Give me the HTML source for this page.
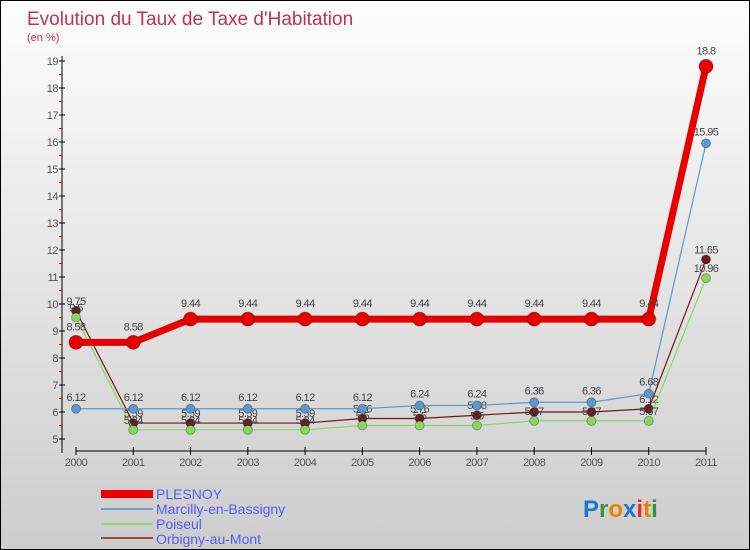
<!DOCTYPE html>
<html><head><meta charset="utf-8"><style>
body{margin:0}
#c{width:748px;height:548px;border:1px solid #000;background:linear-gradient(#fdfdfd,#cdcdcd);position:relative;overflow:hidden;font-family:"Liberation Sans",sans-serif}
</style></head><body>
<div id="c">
<svg width="748" height="548" id="s" style="position:absolute;left:0;top:0">
<text x="26" y="24" font-size="19" fill="#c0305a">Evolution du Taux de Taxe d'Habitation</text>
<text x="26" y="40" font-size="11" fill="#c0305a">(en %)</text>
<g id="ax"></g><g id="ser"></g>
<g>
<rect x="100" y="489" width="52" height="8" fill="#e00"/>
<text x="155" y="498" font-size="14" fill="#5a5aee">PLESNOY</text>
<rect x="100" y="507" width="52" height="2" fill="#6aa0c8"/>
<text x="155" y="513" font-size="14" fill="#5a5aee">Marcilly-en-Bassigny</text>
<rect x="100" y="522" width="52" height="2" fill="#90d870"/>
<text x="155" y="528" font-size="14" fill="#5a5aee">Poiseul</text>
<rect x="100" y="536" width="52" height="2" fill="#905050"/>
<text x="155" y="543" font-size="14" fill="#5a5aee">Orbigny-au-Mont</text>
</g>
<g font-size="24" font-weight="bold">
<text x="582" y="516"><tspan fill="#1a78d0">P</tspan><tspan fill="#2a9a3a">r</tspan><tspan fill="#f08000">o</tspan><tspan fill="#1a78d0">x</tspan><tspan fill="#e03020">i</tspan><tspan fill="#f08000">t</tspan><tspan fill="#2a9a3a">i</tspan></text>
</g>
</svg>
</div>
<script>
const years=["2000","2001","2002","2003","2004","2005","2006","2007","2008","2009","2010","2011"];
const yTicks=[5,6,7,8,9,10,11,12,13,14,15,16,17,18,19];
const plesnoy=[8.58,8.58,9.44,9.44,9.44,9.44,9.44,9.44,9.44,9.44,9.44,18.8];
const marcilly=[6.12,6.12,6.12,6.12,6.12,6.12,6.24,6.24,6.36,6.36,6.68,15.95];
const poiseul=[9.5,5.34,5.34,5.34,5.34,5.5,5.5,5.5,5.67,5.67,5.67,10.96];
const orbigny=[9.75,5.59,5.59,5.59,5.59,5.76,5.76,5.88,6,6,6.12,11.65];
const NS="http://www.w3.org/2000/svg";
const X=i=>75+i*(630/11), Y=v=>438-(v-5)*27;
function mk(t,a,p){const e=document.createElementNS(NS,t);for(const k in a)e.setAttribute(k,a[k]);p.appendChild(e);return e;}
const ax=document.getElementById('ax'), ser=document.getElementById('ser');
const ya=mk('line',{x1:61,y1:55,x2:61,y2:452,stroke:'#000'},ax);


yTicks.forEach(v=>{
 mk('line',{x1:58,x2:64,y1:Y(v),y2:Y(v),stroke:'#000'},ax);
 if(v<19)mk('line',{x1:58,x2:61,y1:Y(v+0.5),y2:Y(v+0.5),stroke:'#e00'},ax);
 const t=mk('text',{x:57,y:Y(v)+4,'font-size':11,fill:'#555','text-anchor':'end','letter-spacing':'-0.5'},ax);
 t.textContent=v;
 
 
});
const xa=mk('line',{x1:75,y1:450,x2:705,y2:450,stroke:'#000'},ax);


years.forEach((y,i)=>{
 mk('line',{x1:X(i),x2:X(i),y1:446,y2:454,stroke:'#000'},ax);
 const t=mk('text',{x:X(i),y:465,'font-size':11,fill:'#555','text-anchor':'middle','letter-spacing':'-0.5'},ax);
 t.textContent=y;
 
 
});
function draw(d,name,col,w,r,dy){
 const g=mk('g',{},ser);
 
 
 const pl=mk('polyline',{points:d.map((v,i)=>X(i)+','+Y(v)).join(' '),fill:'none',stroke:col,'stroke-width':w,'stroke-linejoin':'round'},g);
 
 
 d.forEach((v,i)=>{
  const c=mk('circle',{cx:X(i),cy:Y(v),r:r,fill:col,stroke:'rgba(0,0,0,0.3)','stroke-width':1},g);
  
  
  const t=mk('text',{x:X(i),y:Y(v)+dy,'font-size':11,fill:'#444','text-anchor':'middle','letter-spacing':'-0.6'},g);
  t.textContent=v;
  
  
 });
}
draw(orbigny,'orbigny','#6a1a1a',1.2,4.5,-6);
draw(poiseul,'poiseul','#88d860',1.2,4.5,-6);
draw(marcilly,'marcilly','#5a9ad0',1.2,4.5,-8);
draw(plesnoy,'plesnoy','#e80000',7,7,-12);
</script>
</body></html>
